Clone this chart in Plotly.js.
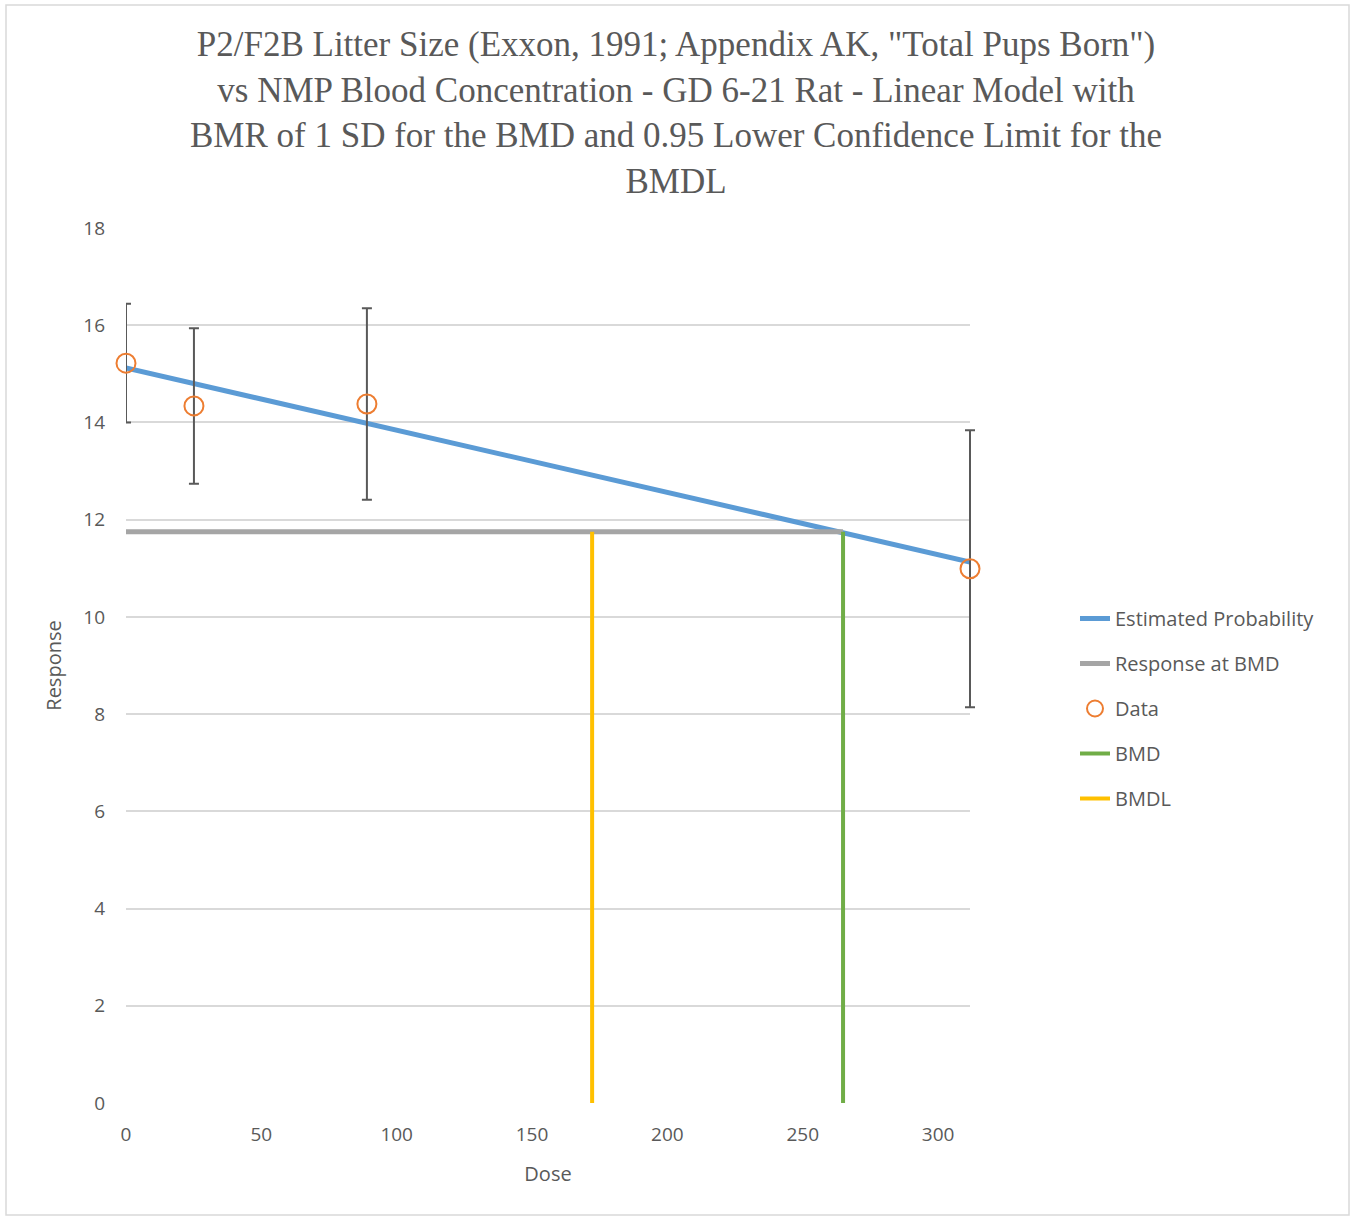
<!DOCTYPE html>
<html>
<head>
<meta charset="utf-8">
<script src="https://cdn.plot.ly/plotly-3.0.1.min.js"></script>
<style>html,body{margin:0;padding:0;background:#fff;}#chart{width:1352px;height:1218px;}</style>
</head>
<body>
<div id="chart"></div>
<script>
// Data
const doses = [0, 25.1, 89.0, 311.8];
const responses = [15.22, 14.34, 14.38, 10.99];
const errors = [1.22, 1.60, 1.97, 2.85];

const modelDose = [0, 311.8];
const modelResponse = [15.12, 11.13];

const bmd = 264.9;
const bmdl = 172.2;
const responseAtBmd = 11.75;

const bmrLineX = [0, bmd];
const bmrLineY = [responseAtBmd, responseAtBmd];
const bmdLineX = [bmd, bmd];
const bmdLineY = [0, responseAtBmd];
const bmdlLineX = [bmdl, bmdl];
const bmdlLineY = [0, responseAtBmd];

const xTicks = [0, 50, 100, 150, 200, 250, 300];
const yTicks = [0, 2, 4, 6, 8, 10, 12, 14, 16, 18];

const textColor = '#595959';
const sans = 'Open Sans, Liberation Sans, sans-serif';

// geometry: main plot 844px wide; an invisible twin axis 20px wider so that
// the last error bar cap is not clipped at the plot edge
const plotW = 844, extraW = 20, fullW = plotW + extraW;
const xMax = 311.8;

const traces = [
  {x: modelDose, y: modelResponse, mode: 'lines', name: 'Estimated Probability',
   line: {color: '#5B9BD5', width: 5}, legendgroup: 'a'},
  {x: bmrLineX, y: bmrLineY, mode: 'lines', name: 'Response at BMD',
   line: {color: '#A5A5A5', width: 5}, legendgroup: 'b'},
  {x: doses, y: responses, mode: 'markers', name: 'Data', cliponaxis: false,
   xaxis: 'x2', yaxis: 'y2',
   marker: {symbol: 'circle-open', size: 19, color: '#ED7D31', line: {width: 2, color: '#ED7D31'}},
   error_y: {type: 'data', array: errors, visible: true, color: '#595959', thickness: 2, width: 5},
   legendgroup: 'c'},
  {x: bmdLineX, y: bmdLineY, mode: 'lines', name: 'BMD',
   line: {color: '#70AD47', width: 4}, legendgroup: 'd'},
  {x: bmdlLineX, y: bmdlLineY, mode: 'lines', name: 'BMDL',
   line: {color: '#FFC000', width: 4}, legendgroup: 'e'}
];

const layout = {
  width: 1352, height: 1218,
  paper_bgcolor: '#fff', plot_bgcolor: 'rgba(0,0,0,0)',
  margin: {l: 126, r: 382 - extraW, t: 228, b: 115},
  title: {
    text: 'P2/F2B Litter Size (Exxon, 1991; Appendix AK, "Total Pups Born")<br>vs NMP Blood Concentration - GD 6-21 Rat - Linear Model with<br>BMR of 1 SD for the BMD and 0.95 Lower Confidence Limit for the<br>BMDL',
    font: {family: 'Liberation Serif, Times New Roman, serif', size: 35, color: textColor},
    x: 0.5, xanchor: 'center', y: 0.954, yanchor: 'top', yref: 'container'
  },
  xaxis: {
    domain: [0, plotW / fullW],
    range: [0, xMax], tickvals: xTicks, ticktext: xTicks.map(String),
    showgrid: false, zeroline: false, showline: false, ticks: '',
    tickfont: {family: sans, size: 19, color: textColor},
    ticklabelstandoff: 18,
    title: {text: 'Dose', font: {family: sans, size: 20, color: textColor}, standoff: 20}
  },
  yaxis: {
    range: [0, 18], tickvals: yTicks, ticktext: yTicks.map(String),
    showgrid: true, gridcolor: '#D9D9D9', gridwidth: 1.5, zeroline: false, showline: false, ticks: '',
    tickfont: {family: sans, size: 19, color: textColor},
    ticklabelstandoff: 20,
    title: {text: 'Response', font: {family: sans, size: 20, color: textColor}, standoff: 16}
  },
  xaxis2: {
    domain: [0, 1], anchor: 'y2', range: [0, xMax * fullW / plotW],
    visible: false, showgrid: false, zeroline: false
  },
  yaxis2: {
    domain: [0, 1], anchor: 'x2', range: [0, 18],
    visible: false, showgrid: false, zeroline: false
  },
  showlegend: true,
  legend: {
    x: (1075 - 126) / fullW, y: 0.576, xanchor: 'left', yanchor: 'top',
    font: {family: sans, size: 20, color: textColor},
    tracegroupgap: 16, bgcolor: 'rgba(0,0,0,0)'
  },
  shapes: [{
    type: 'rect', xref: 'paper', yref: 'paper',
    x0: (6 - 126) / fullW, x1: (1349 - 126) / fullW,
    y0: (1103 - 1215) / 875, y1: (1103 - 5) / 875,
    line: {color: '#D9D9D9', width: 1.5}, fillcolor: 'rgba(0,0,0,0)', layer: 'below'
  }]
};

Plotly.newPlot('chart', traces, layout, {displayModeBar: false, responsive: false});
</script>
</body>
</html>
